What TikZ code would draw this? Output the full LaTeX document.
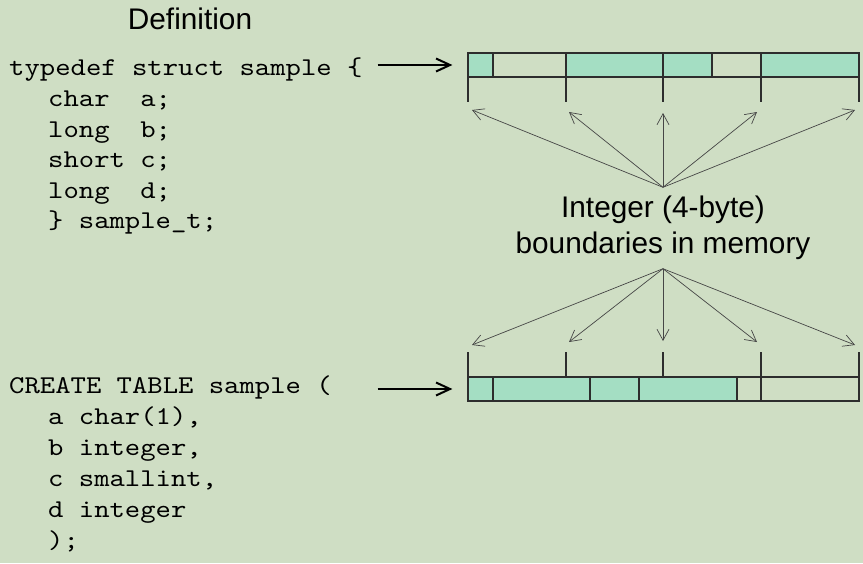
\documentclass[tikz,border=0pt]{standalone}
\usepackage{fontspec}
\newfontfamily\labelfont{Liberation Sans}
\newfontfamily\codefont[FakeStretch=1.143]{lmmono10-regular.otf}
\usetikzlibrary{arrows.meta, positioning}
\definecolor{slidebg}{RGB}{207,222,196}
\definecolor{bytefill}{RGB}{164,222,195}
\definecolor{barline}{RGB}{45,45,45}
\definecolor{fanline}{RGB}{70,70,70}
\tikzstyle{code} = [
  anchor=base west,
  inner sep=0pt,
  text=black,
  font=\codefont\fontsize{25.6pt}{31pt}\selectfont
]
\tikzstyle{title} = [
  anchor=base,
  inner sep=0pt,
  font=\labelfont\fontsize{29.8pt}{34pt}\selectfont
]
\tikzstyle{membar} = [
  rectangle,
  minimum width=391pt,
  minimum height=24pt,
  inner sep=0pt,
  draw=barline,
  line width=1.2pt
]
\tikzstyle{byte} = [fill=bytefill]
\tikzstyle{tick} = [draw=barline, line width=1.2pt]
\tikzstyle{bigarrow} = [line width=2pt, -{Straight Barb[length=14pt, width=13pt]}]
\tikzstyle{fanarrow} = [draw=fanline, line width=0.7pt, -{Straight Barb[length=11pt, width=12pt]}]

\begin{document}
\begin{tikzpicture}[x=1pt, y=-1pt]
    \fill [slidebg] (0,0) rectangle (863,563);
    \useasboundingbox (0,0) rectangle (863,563);

    % definitions on the left
    \node (def-title) [title] at (190,29) {Definition};
    \node (struct-head) [code] at (9,75) {typedef struct sample \{};
    \node (struct-a) [code] at (48,106) {char\ \ a;};
    \node (struct-b) [code] at (48,137) {long\ \ b;};
    \node (struct-c) [code] at (48,167) {short c;};
    \node (struct-d) [code] at (48,198) {long\ \ d;};
    \node (struct-end) [code] at (48,228) {\} sample\_t;};
    \node (table-head) [code] at (9,393) {CREATE TABLE sample (};
    \node (table-a) [code] at (48,424) {a char(1),};
    \node (table-b) [code] at (48,455) {b integer,};
    \node (table-c) [code] at (48,486) {c smallint,};
    \node (table-d) [code] at (48,517) {d integer};
    \node (table-end) [code] at (48,548) {);};

    % struct layout
    \fill [byte] (468,53) rectangle (493,77);
    \fill [byte] (566,53) rectangle (712,77);
    \fill [byte] (761,53) rectangle (859,77);
    \node (mem-struct) [membar] at (663.5,65) {};
    \draw [tick] (493,53) -- (493,77);
    \draw [tick] (566,53) -- (566,102);
    \draw [tick] (663,53) -- (663,102);
    \draw [tick] (712,53) -- (712,77);
    \draw [tick] (761,53) -- (761,102);
    \draw [tick] (468,77) -- (468,102);
    \draw [tick] (859,77) -- (859,102);

    % table row layout
    \fill [byte] (468,377) rectangle (737,401);
    \node (mem-table) [membar] at (663.5,389) {};
    \draw [tick] (493,377) -- (493,401);
    \draw [tick] (590,377) -- (590,401);
    \draw [tick] (639,377) -- (639,401);
    \draw [tick] (737,377) -- (737,401);
    \draw [tick] (468,352) -- (468,377);
    \draw [tick] (566,352) -- (566,377);
    \draw [tick] (663,352) -- (663,377);
    \draw [tick] (761,352) -- (761,401);
    \draw [tick] (859,352) -- (859,377);

    \draw [bigarrow, shorten <=15pt, shorten >=15pt] (struct-head.east |- mem-struct.west) -- (mem-struct.west);
    \draw [bigarrow, shorten <=15pt, shorten >=15pt] (struct-head.east |- mem-table.west) -- (mem-table.west);

    % boundaries label with its arrows
    \node (int-label) [font=\labelfont\fontsize{29.8pt}{36pt}\selectfont, align=center, inner sep=0pt, minimum height=81pt] at (663,228) {Integer (4-byte)\\boundaries in memory};
    \coordinate (up-1) at (472,110);
    \coordinate (up-2) at (569,112);
    \coordinate (up-3) at (663,113);
    \coordinate (up-4) at (757,112);
    \coordinate (up-5) at (855,110);
    \coordinate (down-1) at (472,345);
    \coordinate (down-2) at (569,342);
    \coordinate (down-3) at (663,341);
    \coordinate (down-4) at (757,342);
    \coordinate (down-5) at (855,345);
    \draw [fanarrow] (int-label.north) -- (up-1);
    \draw [fanarrow] (int-label.north) -- (up-2);
    \draw [fanarrow] (int-label.north) -- (up-3);
    \draw [fanarrow] (int-label.north) -- (up-4);
    \draw [fanarrow] (int-label.north) -- (up-5);
    \draw [fanarrow] (int-label.south) -- (down-1);
    \draw [fanarrow] (int-label.south) -- (down-2);
    \draw [fanarrow] (int-label.south) -- (down-3);
    \draw [fanarrow] (int-label.south) -- (down-4);
    \draw [fanarrow] (int-label.south) -- (down-5);
\end{tikzpicture}
\end{document}
